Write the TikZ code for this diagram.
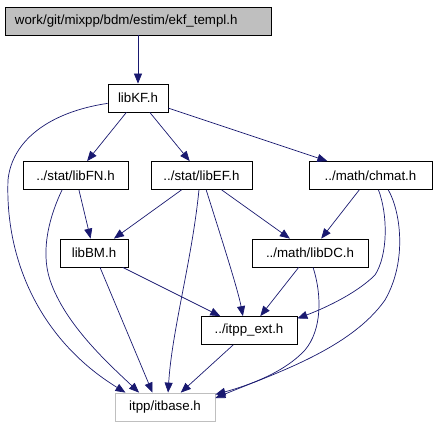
\documentclass[tikz,border=0pt]{standalone}
\usepackage{fontspec}
\setmainfont{Liberation Sans}
\usetikzlibrary{arrows.meta}
\definecolor{edgeblue}{HTML}{191970}
\definecolor{boxgray}{HTML}{BFBFBF}
\tikzstyle{hfile} = [rectangle, minimum height=28pt, inner sep=0pt, text centered, draw=black, line width=0.75pt, fill=white, font=\fontsize{13.3}{15}\selectfont]
\tikzstyle{arrow} = [draw=edgeblue, line width=0.7pt, -{Triangle[length=10pt,width=8pt]}]

\begin{document}
\begin{tikzpicture}[x=1pt, y=-1pt]
    \useasboundingbox (0,0) rectangle (437,427);

    \node (ekf)    [hfile, minimum width=266pt, fill=boxgray, text width=246pt, align=left] at (138,21) {work/git/mixpp/bdm/estim/ekf\_templ.h};
    \node (libKF)  [hfile, minimum width=60pt]  at (138,98)    {libKF.h};
    \node (libFN)  [hfile, minimum width=105pt] at (75.5,175.5) {../stat/libFN.h};
    \node (libEF)  [hfile, minimum width=101pt] at (201.5,175.5) {../stat/libEF.h};
    \node (chmat)  [hfile, minimum width=123pt] at (370.5,175.5) {../math/chmat.h};
    \node (libBM)  [hfile, minimum width=68pt]  at (94,253)    {libBM.h};
    \node (libDC)  [hfile, minimum width=116pt] at (310,253)   {../math/libDC.h};
    \node (itppext) [hfile, minimum width=96pt] at (249,330.5) {../itpp\_ext.h};
    \node (itbase) [hfile, minimum width=100pt, draw=boxgray] at (165,407) {itpp/itbase.h};

    \draw [arrow] (ekf) -- (libKF);
    \draw [arrow] (libKF) -- (libFN);
    \draw [arrow] (libKF) -- (libEF);
    \draw [arrow] (libKF) -- (chmat);
    \draw [arrow] (libKF.190) .. controls (50,112) and (12,140) .. (8,180)
        .. controls (5,260) and (40,340) .. (itbase.160);

    \draw [arrow] (libFN) -- (libBM);
    \draw [arrow] (libFN.227) .. controls (50,215) and (40,250) .. (50,280)
        .. controls (65,325) and (110,365) .. (itbase.151);

    \draw [arrow] (libEF) -- (libBM);
    \draw [arrow] (libEF.260) .. controls (192,260) and (172,330) .. (itbase.78);
    \draw [arrow] (libEF.288) .. controls (222,240) and (238,290) .. (itppext.113);
    \draw [arrow] (libEF) -- (libDC);

    \draw [arrow] (libBM) -- (itbase.131);
    \draw [arrow] (libBM) -- (itppext);

    \draw [arrow] (libDC) -- (itppext);
    \draw [arrow] (libDC.282) .. controls (322,295) and (322,330) .. (305,350)
        .. controls (285,372) and (250,385) .. (itbase.14);

    \draw [arrow] (chmat) -- (libDC);
    \draw [arrow] (chmat.299) .. controls (388,215) and (388,255) .. (375,275)
        .. controls (355,295) and (320,310) .. (itppext.14);
    \draw [arrow] (chmat.321) .. controls (400,210) and (408,260) .. (385,300)
        .. controls (350,350) and (270,375) .. (itbase.10);

    \draw [arrow] (itppext) -- (itbase);

  \end{tikzpicture}
\end{document}
